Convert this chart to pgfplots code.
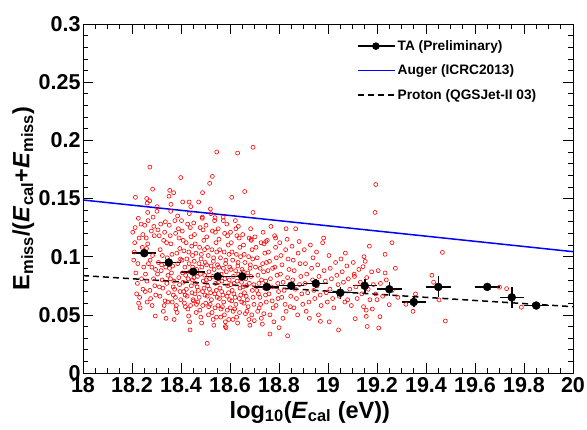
\documentclass[border=0pt]{standalone}
\usepackage{fontspec}
\setmainfont{Liberation Sans}
\usepackage{pgfplots}
\pgfplotsset{compat=1.18}
\usetikzlibrary{calc}
\pgfplotstableread{
x y ex ey
18.25 0.103 0.05 0.003
18.35 0.095 0.05 0.003
18.45 0.087 0.05 0.003
18.55 0.083 0.05 0.002
18.65 0.083 0.05 0.003
18.75 0.074 0.05 0.003
18.85 0.075 0.05 0.003
18.95 0.077 0.05 0.004
19.05 0.069 0.05 0.005
19.15 0.075 0.05 0.006
19.25 0.072 0.05 0.006
19.35 0.061 0.05 0.004
19.45 0.074 0.05 0.009
19.65 0.074 0.05 0.003
19.75 0.065 0.05 0.009
19.85 0.058 0.05 0.003
}\tadata
\begin{document}
\begin{tikzpicture}
\begin{axis}[
  scale only axis, width=490pt, height=349pt,
  xmin=18, xmax=20, ymin=0, ymax=0.3,
  xtick={18,18.2,18.4,18.6,18.8,19,19.2,19.4,19.6,19.8,20},
  xticklabels={18,18.2,18.4,18.6,18.8,19,19.2,19.4,19.6,19.8,20},
  ytick={0,0.05,0.1,0.15,0.2,0.25,0.3},
  yticklabels={0,0.05,0.1,0.15,0.2,0.25,0.3},
  minor x tick num=3, minor y tick num=4,
  tick align=inside, major tick length=10pt, minor tick length=5pt,
  every tick/.style={black, line width=0.6pt},
  axis line style={line width=0.8pt},
  /pgf/number format/assume math mode=true,
  ticklabel style={font=\fontsize{21.5}{24}\selectfont\bfseries},
  xticklabel style={yshift=-1pt},
  yticklabel style={xshift=1pt},
  xlabel={\textbf{log\textsubscript{10}(\textit{E}\textsubscript{cal} (eV))}},
  ylabel={\textbf{E\textsubscript{miss}/(\textit{E}\textsubscript{cal}+\textit{E}\textsubscript{miss})}},
  label style={font=\fontsize{23.5}{26}\selectfont\bfseries},
  xlabel style={at={(axis description cs:0.463,-0.112)}, anchor=center},
  ylabel style={at={(axis description cs:-0.122,0.5)}, anchor=center},
  legend style={at={(0.553,0.965)}, anchor=north west, draw=none, fill=none,
    font=\fontsize{13.7}{16}\selectfont\bfseries, row sep=9pt},
  legend cell align=left,
  legend image code/.code={\draw[mark repeat=2,mark phase=2,#1] plot coordinates {(0pt,0pt) (18pt,0pt) (37pt,0pt)};},
]
\addlegendimage{black, line width=1.5pt, mark=*, mark size=3pt}
\addlegendentry{TA (Preliminary)}
\addlegendimage{color=blue, line width=1.5pt}
\addlegendentry{Auger (ICRC2013)}
\addlegendimage{black, line width=1.5pt, dash pattern=on 6pt off 4pt}
\addlegendentry{Proton (QGSJet-II 03)}

\addplot[forget plot, only marks, mark=o, mark size=2pt, red, mark options={line width=0.6pt}] coordinates {
(18.203,0.121)(18.211,0.112)(18.207,0.097)(18.216,0.086)(18.222,0.077)(18.219,0.068)(18.227,0.060)(18.233,0.056)(18.213,0.125)(18.237,0.128)(18.229,0.116)(18.242,0.108)(18.224,0.094)(18.239,0.081)(18.245,0.072)(18.231,0.065)(18.248,0.091)(18.209,0.104)(18.244,0.119)(18.226,0.133)
(18.252,0.127)(18.258,0.116)(18.264,0.111)(18.267,0.094)(18.255,0.085)(18.261,0.079)(18.273,0.071)(18.276,0.064)(18.282,0.058)(18.286,0.134)(18.279,0.122)(18.291,0.118)(18.284,0.101)(18.296,0.089)(18.288,0.081)(18.293,0.075)(18.297,0.067)(18.259,0.107)(18.266,0.131)(18.274,0.097)(18.281,0.091)(18.262,0.061)(18.289,0.126)(18.254,0.070)
(18.302,0.139)(18.306,0.123)(18.311,0.118)(18.315,0.106)(18.308,0.095)(18.319,0.088)(18.323,0.080)(18.326,0.073)(18.314,0.066)(18.331,0.058)(18.328,0.053)(18.336,0.130)(18.333,0.121)(18.341,0.112)(18.344,0.099)(18.338,0.091)(18.347,0.084)(18.342,0.077)(18.349,0.069)(18.304,0.085)(18.317,0.128)(18.324,0.101)(18.329,0.114)(18.335,0.062)(18.312,0.074)(18.339,0.047)(18.346,0.061)(18.321,0.093)
(18.352,0.127)(18.356,0.118)(18.359,0.111)(18.363,0.102)(18.366,0.092)(18.361,0.086)(18.371,0.079)(18.374,0.072)(18.377,0.065)(18.381,0.058)(18.384,0.052)(18.386,0.135)(18.389,0.124)(18.392,0.116)(18.395,0.107)(18.398,0.098)(18.353,0.090)(18.357,0.081)(18.368,0.074)(18.369,0.067)(18.364,0.061)(18.379,0.055)(18.372,0.046)(18.375,0.131)(18.378,0.120)(18.383,0.103)(18.387,0.094)(18.391,0.082)(18.394,0.076)(18.396,0.070)(18.399,0.063)(18.358,0.139)
(18.402,0.131)(18.405,0.122)(18.409,0.114)(18.412,0.105)(18.404,0.097)(18.416,0.091)(18.419,0.084)(18.408,0.078)(18.422,0.072)(18.425,0.066)(18.414,0.060)(18.428,0.055)(18.431,0.049)(18.435,0.044)(18.438,0.125)(18.441,0.117)(18.444,0.109)(18.447,0.101)(18.433,0.094)(18.436,0.087)(18.429,0.081)(18.442,0.075)(18.445,0.069)(18.449,0.063)(18.418,0.057)(18.411,0.070)(18.424,0.098)(18.421,0.112)(18.427,0.128)(18.434,0.137)(18.439,0.058)(18.446,0.080)(18.406,0.086)(18.417,0.067)(18.432,0.104)(18.448,0.091)
(18.452,0.129)(18.455,0.119)(18.458,0.111)(18.461,0.103)(18.454,0.096)(18.464,0.089)(18.467,0.083)(18.459,0.077)(18.471,0.071)(18.474,0.065)(18.463,0.059)(18.477,0.054)(18.481,0.048)(18.484,0.043)(18.487,0.133)(18.490,0.123)(18.493,0.114)(18.496,0.106)(18.482,0.098)(18.485,0.091)(18.479,0.085)(18.491,0.079)(18.494,0.073)(18.498,0.067)(18.469,0.061)(18.457,0.068)(18.473,0.094)(18.476,0.108)(18.478,0.125)(18.489,0.058)(18.497,0.084)(18.453,0.082)(18.466,0.074)(18.483,0.102)(18.499,0.095)(18.462,0.052)(18.488,0.070)(18.451,0.062)
(18.502,0.127)(18.505,0.117)(18.508,0.108)(18.511,0.101)(18.504,0.093)(18.514,0.087)(18.517,0.081)(18.509,0.075)(18.521,0.069)(18.524,0.063)(18.513,0.057)(18.527,0.052)(18.531,0.046)(18.534,0.041)(18.537,0.131)(18.540,0.121)(18.543,0.112)(18.546,0.104)(18.532,0.096)(18.535,0.089)(18.529,0.083)(18.541,0.077)(18.544,0.071)(18.548,0.065)(18.519,0.059)(18.507,0.066)(18.523,0.092)(18.526,0.106)(18.528,0.122)(18.539,0.056)(18.547,0.082)(18.503,0.080)(18.516,0.072)(18.533,0.099)(18.549,0.093)(18.512,0.050)(18.538,0.068)(18.501,0.060)(18.522,0.137)(18.545,0.048)
(18.552,0.124)(18.555,0.115)(18.558,0.106)(18.561,0.099)(18.554,0.091)(18.564,0.085)(18.567,0.079)(18.559,0.073)(18.571,0.067)(18.574,0.061)(18.563,0.055)(18.577,0.050)(18.581,0.044)(18.584,0.039)(18.587,0.128)(18.590,0.118)(18.593,0.110)(18.596,0.102)(18.582,0.094)(18.585,0.087)(18.579,0.081)(18.591,0.075)(18.594,0.069)(18.598,0.063)(18.569,0.057)(18.557,0.064)(18.573,0.090)(18.576,0.104)(18.578,0.120)(18.589,0.054)(18.597,0.080)(18.553,0.078)(18.566,0.070)(18.583,0.097)(18.599,0.091)(18.562,0.048)(18.588,0.066)(18.551,0.058)(18.572,0.134)(18.595,0.046)
(18.602,0.121)(18.605,0.112)(18.608,0.104)(18.611,0.097)(18.604,0.089)(18.614,0.083)(18.617,0.077)(18.609,0.071)(18.621,0.065)(18.624,0.059)(18.613,0.053)(18.627,0.048)(18.631,0.043)(18.634,0.126)(18.637,0.116)(18.640,0.108)(18.643,0.100)(18.632,0.092)(18.635,0.085)(18.629,0.079)(18.641,0.073)(18.644,0.067)(18.648,0.061)(18.619,0.055)(18.607,0.062)(18.623,0.088)(18.626,0.102)(18.628,0.118)(18.639,0.052)(18.647,0.078)(18.603,0.076)(18.616,0.068)(18.633,0.095)(18.649,0.089)(18.612,0.046)(18.638,0.064)(18.601,0.056)(18.622,0.131)
(18.652,0.119)(18.655,0.110)(18.658,0.102)(18.661,0.095)(18.654,0.087)(18.664,0.081)(18.667,0.075)(18.659,0.069)(18.671,0.063)(18.674,0.057)(18.663,0.051)(18.677,0.046)(18.681,0.041)(18.684,0.124)(18.687,0.114)(18.690,0.106)(18.693,0.098)(18.682,0.090)(18.685,0.083)(18.679,0.077)(18.691,0.071)(18.694,0.065)(18.698,0.059)(18.669,0.053)(18.657,0.060)(18.673,0.086)(18.676,0.100)(18.678,0.116)(18.689,0.050)(18.697,0.076)(18.653,0.074)(18.666,0.066)(18.683,0.093)(18.699,0.045)
(18.702,0.117)(18.706,0.108)(18.711,0.099)(18.704,0.091)(18.714,0.084)(18.718,0.077)(18.709,0.071)(18.722,0.065)(18.725,0.059)(18.713,0.053)(18.728,0.047)(18.732,0.042)(18.735,0.121)(18.739,0.111)(18.742,0.103)(18.733,0.094)(18.737,0.087)(18.729,0.080)(18.741,0.073)(18.745,0.067)(18.748,0.061)(18.719,0.056)(18.723,0.090)(18.727,0.112)(18.738,0.051)(18.746,0.079)(18.716,0.068)(18.749,0.095)
(18.752,0.114)(18.757,0.104)(18.761,0.096)(18.755,0.088)(18.765,0.081)(18.769,0.074)(18.759,0.068)(18.772,0.062)(18.776,0.056)(18.763,0.050)(18.779,0.044)(18.782,0.118)(18.786,0.108)(18.789,0.099)(18.783,0.091)(18.792,0.084)(18.795,0.077)(18.798,0.070)(18.774,0.090)(18.788,0.058)(18.767,0.126)(18.796,0.064)
(18.803,0.112)(18.808,0.101)(18.812,0.093)(18.806,0.085)(18.817,0.078)(18.821,0.071)(18.811,0.065)(18.825,0.059)(18.829,0.053)(18.816,0.047)(18.833,0.115)(18.837,0.098)(18.841,0.089)(18.835,0.082)(18.844,0.075)(18.848,0.066)(18.827,0.106)(18.846,0.057)
(18.853,0.109)(18.858,0.097)(18.862,0.088)(18.856,0.080)(18.867,0.072)(18.871,0.064)(18.861,0.056)(18.876,0.050)(18.882,0.113)(18.886,0.094)(18.889,0.083)(18.884,0.076)(18.893,0.068)(18.897,0.059)(18.878,0.103)
(18.903,0.106)(18.908,0.094)(18.913,0.085)(18.906,0.077)(18.917,0.069)(18.922,0.061)(18.911,0.053)(18.928,0.110)(18.933,0.090)(18.937,0.080)(18.942,0.071)(18.946,0.064)(18.939,0.099)
(18.953,0.104)(18.958,0.093)(18.963,0.083)(18.956,0.075)(18.968,0.067)(18.972,0.058)(18.961,0.050)(18.978,0.112)(18.984,0.088)(18.989,0.079)(18.993,0.069)(18.997,0.061)
(19.004,0.101)(19.009,0.090)(19.014,0.081)(19.008,0.072)(19.019,0.064)(19.024,0.056)(19.031,0.095)(19.036,0.084)(19.041,0.076)(19.046,0.066)
(19.053,0.098)(19.058,0.087)(19.063,0.078)(19.057,0.069)(19.069,0.061)(19.077,0.092)(19.083,0.081)(19.089,0.072)(19.095,0.058)
(19.103,0.095)(19.108,0.083)(19.114,0.074)(19.119,0.064)(19.126,0.089)(19.132,0.078)(19.138,0.068)(19.145,0.057)
(19.152,0.096)(19.158,0.082)(19.164,0.072)(19.171,0.063)(19.178,0.087)(19.185,0.076)(19.194,0.068)
(19.205,0.088)(19.214,0.077)(19.223,0.066)(19.238,0.080)(19.262,0.071)(19.285,0.065)
(18.273,0.177)(18.546,0.190)(18.631,0.189)(18.694,0.194)(18.399,0.168)(18.528,0.169)(18.517,0.163)(19.195,0.162)(18.284,0.158)(18.354,0.157)(18.370,0.155)(18.488,0.155)(18.660,0.156)(18.214,0.151)(18.260,0.150)(18.272,0.148)(18.262,0.146)(18.407,0.147)(18.433,0.147)(18.472,0.147)(18.351,0.152)(18.359,0.145)(18.302,0.143)(18.440,0.143)(18.607,0.151)(18.694,0.138)(18.520,0.141)(18.264,0.138)
(18.507,0.0255)(18.437,0.037)(18.763,0.0335)(18.295,0.049)(18.581,0.040)
(19.192,0.138)(18.868,0.124)(18.829,0.124)(19.261,0.112)(19.169,0.109)(18.982,0.116)(19.467,0.1037)(19.275,0.090)(19.424,0.084)(19.431,0.078)(19.357,0.068)(19.318,0.059)(19.347,0.053)(19.453,0.0628)(19.479,0.0447)(19.729,0.0725)(19.700,0.0737)(19.789,0.0565)(19.207,0.0387)(19.160,0.040)(19.043,0.037)(18.835,0.032)(18.800,0.039)(18.924,0.047)(18.969,0.0444)(19.005,0.044)(19.111,0.0467)(19.156,0.0487)(19.212,0.0484)(19.250,0.0587)(19.156,0.054)(19.181,0.055)(19.200,0.063)(19.080,0.063)(19.071,0.103)(19.107,0.085)(19.143,0.0914)(19.147,0.100)(19.233,0.102)(19.233,0.086)
(18.746,0.113)(18.786,0.116)(18.686,0.115)(18.624,0.124)(18.573,0.131)(18.539,0.1335)(18.487,0.134)
};

\addplot[forget plot, blue, line width=1.5pt] coordinates {(18,0.1487) (20,0.1043)};
\addplot[forget plot, black, line width=1.5pt, dash pattern=on 6pt off 4pt] coordinates {(18,0.0837) (20,0.0570)};

\addplot[forget plot, black, only marks, mark=*, mark size=4pt,
  error bars/.cd, x dir=both, x explicit, y dir=both, y explicit,
  error bar style={line width=1.5pt, black}, error mark=none]
  table[x=x, y=y, x error=ex, y error=ey] {\tadata};
\end{axis}
\pgfresetboundingbox
\path[use as bounding box] ($(current axis.south west)+(-83pt,-57pt)$) rectangle ($(current axis.north east)+(14pt,24pt)$);
\end{tikzpicture}
\end{document}
